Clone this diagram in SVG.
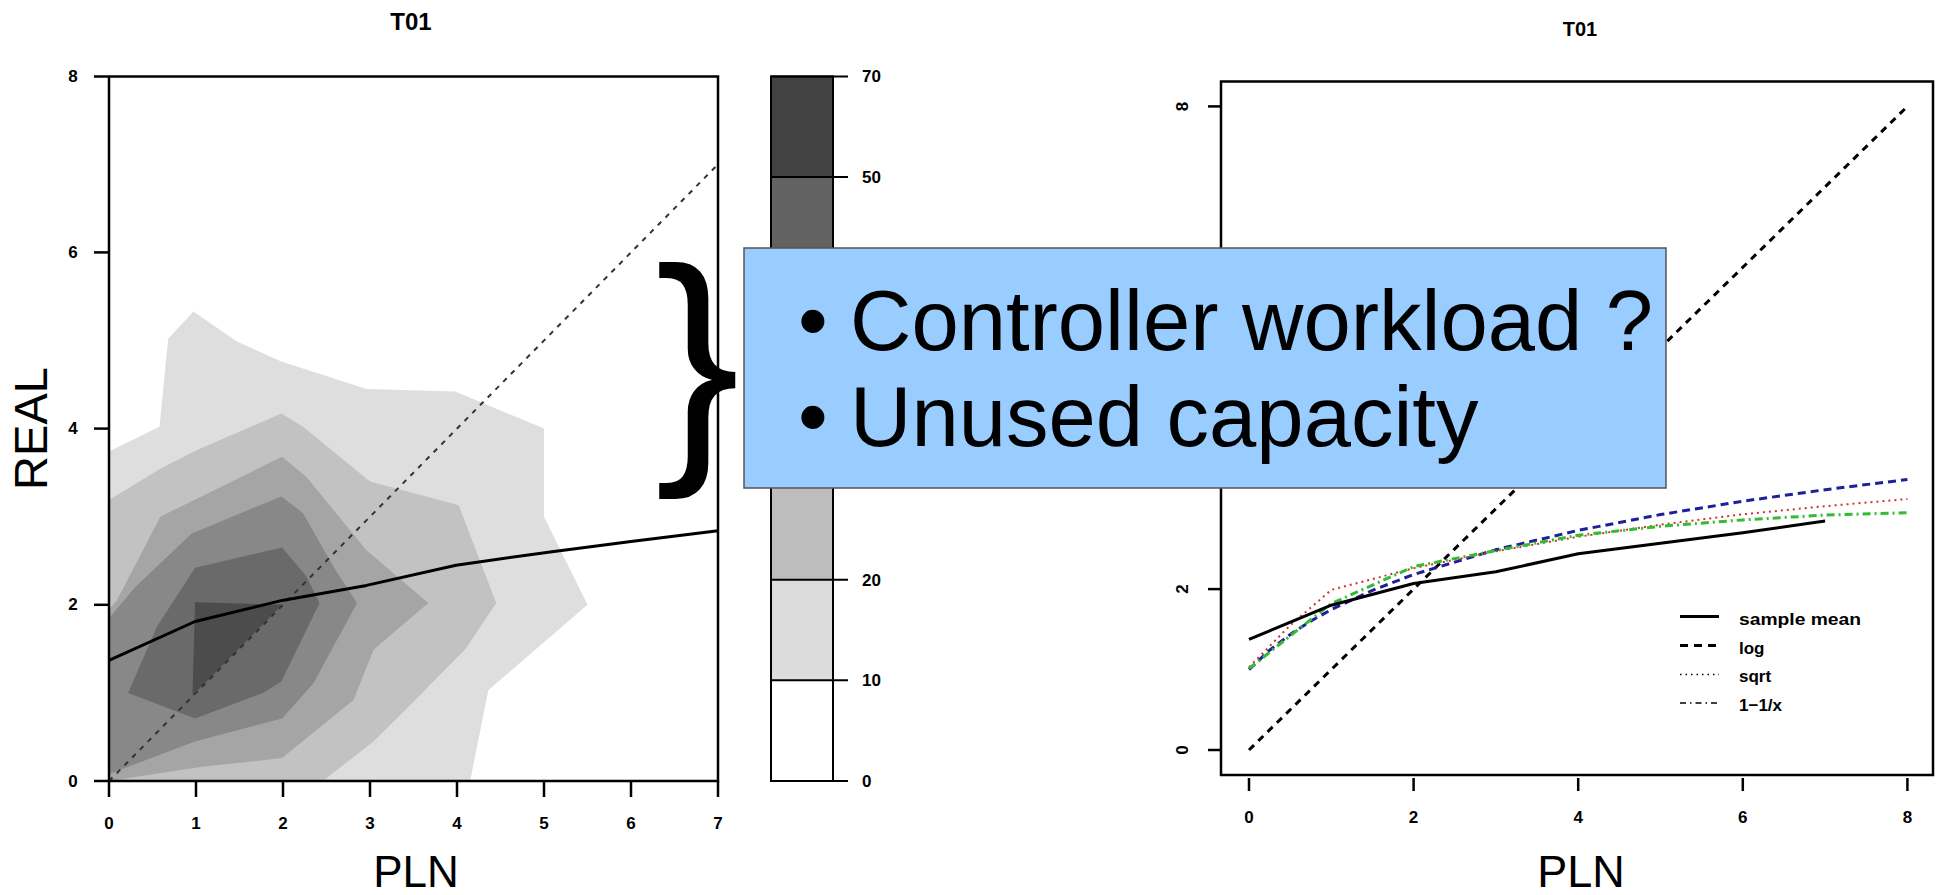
<svg xmlns="http://www.w3.org/2000/svg" width="1937" height="895" viewBox="0 0 1937 895">
<style>
.tick{font-family:"Liberation Sans",Arial,sans-serif;font-weight:bold;font-size:17px;fill:#000}
.title{font-family:"Liberation Sans",Arial,sans-serif;font-weight:bold;fill:#000}
.axlab{font-family:"Liberation Sans",Arial,sans-serif;fill:#000}
.leg{font-family:"Liberation Sans",Arial,sans-serif;font-weight:bold;font-size:17px;fill:#000}
.box{font-family:"Liberation Sans",Arial,sans-serif;font-size:85px;fill:#000}
.ax{stroke:#000;stroke-width:2.5;fill:none}
.tk{stroke:#000;stroke-width:2.5}
</style>
<rect width="1937" height="895" fill="#fff"/>

<g id="left-plot">
  <text class="title" x="411" y="30" font-size="24" text-anchor="middle">T01</text>
  <g id="contours" stroke="none">
    <polygon fill="#dedede" points="109,781 470.1,781 488.3,690.3 587.5,604.8 544,516.7 544,428.6 455.3,391.6 366.5,389 281.3,361.6 236.9,341.4 193.4,311.4 168.2,338.7 159.5,426.8 109,451.5"/>
    <polygon fill="#c2c2c2" points="109,781 323,781 373.5,741.4 417.9,697.3 465.7,648.8 496.2,603 458.7,505.2 370,481.5 303,426.8 281.3,413.6 196,450.6 161.2,468.2 109,500"/>
    <polygon fill="#a5a5a5" points="109,781 200.4,766.9 282.1,758.1 353.5,700 373.5,649.7 428.3,603 366.5,550.2 306.5,477.1 282.1,456.8 160.3,516.7 116.8,600.4 109,609.2"/>
    <polygon fill="#888888" points="109,774 195.1,741.4 282.1,718.4 313.5,683.2 357,603 333.5,566.8 303,513.2 281.3,496.4 191.7,533.4 135.1,587.2 109,618"/>
    <polygon fill="#6a6a6a" points="128.1,692.9 156.9,626.8 195.1,567.8 282.1,547.5 306.5,576.6 319.5,603 281.3,681.4 263,692.9 195.1,718.4"/>
    <polygon fill="#4c4c4c" points="195.1,602.2 282.1,604.8 192.5,695.5"/>
  </g>
  <line x1="109" y1="781" x2="718" y2="164.3" stroke="#333" stroke-width="2" stroke-dasharray="5 6"/>
  <polyline fill="none" stroke="#000" stroke-width="3" stroke-linejoin="round" points="109,660.3 195.1,621.5 282.1,600.4 366.5,585.4 456.1,565.2 550.1,551.9 631,541.4 718,530.8"/>
  <g id="left-axes">
    <polyline class="ax" points="94,76.4 718,76.4 718,781 109,781"/>
    <line class="ax" x1="109" y1="76.4" x2="109" y2="797"/>
    <line class="tk" x1="94" y1="252.4" x2="109" y2="252.4"/>
    <line class="tk" x1="94" y1="428.6" x2="109" y2="428.6"/>
    <line class="tk" x1="94" y1="604.8" x2="109" y2="604.8"/>
    <line class="tk" x1="94" y1="781" x2="109" y2="781"/>
    <line class="tk" x1="196" y1="781" x2="196" y2="797"/>
    <line class="tk" x1="283" y1="781" x2="283" y2="797"/>
    <line class="tk" x1="370" y1="781" x2="370" y2="797"/>
    <line class="tk" x1="457" y1="781" x2="457" y2="797"/>
    <line class="tk" x1="544" y1="781" x2="544" y2="797"/>
    <line class="tk" x1="631" y1="781" x2="631" y2="797"/>
    <line class="tk" x1="718" y1="781" x2="718" y2="797"/>
    <g text-anchor="middle">
      <text class="tick" x="73" y="82">8</text>
      <text class="tick" x="73" y="258">6</text>
      <text class="tick" x="73" y="434">4</text>
      <text class="tick" x="73" y="610">2</text>
      <text class="tick" x="73" y="787">0</text>
      <text class="tick" x="109" y="829">0</text>
      <text class="tick" x="196" y="829">1</text>
      <text class="tick" x="283" y="829">2</text>
      <text class="tick" x="370" y="829">3</text>
      <text class="tick" x="457" y="829">4</text>
      <text class="tick" x="544" y="829">5</text>
      <text class="tick" x="631" y="829">6</text>
      <text class="tick" x="718" y="829">7</text>
    </g>
  </g>
  <text class="axlab" font-size="47" text-anchor="middle" transform="rotate(-90)" x="-428.5" y="47">REAL</text>
  <text class="axlab" font-size="44" text-anchor="middle" x="416" y="887">PLN</text>
</g>

<g id="colorbar">
  <rect x="771" y="680.3" width="62" height="100.7" fill="#ffffff"/>
  <rect x="771" y="579.7" width="62" height="100.6" fill="#dcdcdc"/>
  <rect x="771" y="479" width="62" height="100.7" fill="#bdbdbd"/>
  <rect x="771" y="378.4" width="62" height="100.6" fill="#9e9e9e"/>
  <rect x="771" y="277.7" width="62" height="100.7" fill="#7f7f7f"/>
  <rect x="771" y="177.1" width="62" height="100.6" fill="#626262"/>
  <rect x="771" y="76.4" width="62" height="100.7" fill="#424242"/>
  <rect x="771" y="76.4" width="62" height="704.6" fill="none" stroke="#000" stroke-width="2"/>
  <g stroke="#000" stroke-width="2">
    <line x1="771" y1="781" x2="848" y2="781"/>
    <line x1="771" y1="680.3" x2="848" y2="680.3"/>
    <line x1="771" y1="579.7" x2="848" y2="579.7"/>
    <line x1="771" y1="177.1" x2="848" y2="177.1"/>
    <line x1="771" y1="76.4" x2="848" y2="76.4"/>
  </g>
  <text class="tick" x="862" y="787">0</text>
  <text class="tick" x="862" y="686">10</text>
  <text class="tick" x="862" y="586">20</text>
  <text class="tick" x="862" y="183">50</text>
  <text class="tick" x="862" y="82">70</text>
</g>

<g id="right-plot">
  <text class="title" x="1580" y="36" font-size="20" text-anchor="middle">T01</text>
  <line x1="1249" y1="750" x2="1907.4" y2="106.4" stroke="#000" stroke-width="3" stroke-dasharray="7 6"/>
  <polyline fill="none" stroke="#1f1f99" stroke-width="3" stroke-dasharray="8 5" points="1249,669.6 1269.6,650.2 1290.2,634.5 1310.7,621.1 1331.3,609.6 1372.5,590.3 1413.6,574.5 1495.9,549.7 1578.2,530.4 1660.5,514.6 1742.8,501.2 1825.1,489.7 1907.4,479.5"/>
  <polyline fill="none" stroke="#cc3333" stroke-width="2" stroke-dasharray="2 4" points="1249,667.1 1290.2,625.3 1331.3,589.9 1413.6,568.2 1495.9,551.3 1578.2,536.8 1660.5,524.7 1742.8,514.3 1825.1,506.2 1907.4,499"/>
  <polyline fill="none" stroke="#33bb33" stroke-width="3" stroke-dasharray="8 4 2 4" points="1249,668.7 1290.2,635.8 1331.3,603.6 1413.6,566.6 1495.9,550.5 1578.2,535.2 1660.5,526.3 1742.8,519.9 1825.1,515.1 1907.4,512.7"/>
  <polyline fill="none" stroke="#000" stroke-width="3" stroke-linejoin="round" points="1249,639.4 1331.3,605.2 1413.6,583.5 1495.9,571.8 1578.2,553.7 1660.5,543.2 1742.8,532.8 1825.1,521.1"/>
  <g id="legend">
    <line x1="1680" y1="616.5" x2="1719" y2="616.5" stroke="#000" stroke-width="3"/>
    <line x1="1680" y1="645.5" x2="1719" y2="645.5" stroke="#000" stroke-width="3" stroke-dasharray="8 6"/>
    <line x1="1680" y1="674.5" x2="1719" y2="674.5" stroke="#000" stroke-width="1.5" stroke-dasharray="1.5 4"/>
    <line x1="1680" y1="703" x2="1719" y2="703" stroke="#000" stroke-width="1.5" stroke-dasharray="6 4 1.5 4"/>
    <text class="leg" x="1739" y="624.5" textLength="122" lengthAdjust="spacingAndGlyphs">sample mean</text>
    <text class="leg" x="1739" y="653.5">log</text>
    <text class="leg" x="1739" y="682">sqrt</text>
    <text class="leg" x="1739" y="710.5">1−1/x</text>
  </g>
  <g id="right-axes">
    <rect class="ax" x="1221" y="81.5" width="712" height="693.5" stroke-width="3"/>
    <line class="tk" x1="1208" y1="106.4" x2="1221" y2="106.4"/>
    <line class="tk" x1="1208" y1="589.1" x2="1221" y2="589.1"/>
    <line class="tk" x1="1208" y1="750" x2="1221" y2="750"/>
    <line class="tk" x1="1249" y1="778" x2="1249" y2="791"/>
    <line class="tk" x1="1413.6" y1="778" x2="1413.6" y2="791"/>
    <line class="tk" x1="1578.2" y1="778" x2="1578.2" y2="791"/>
    <line class="tk" x1="1742.8" y1="778" x2="1742.8" y2="791"/>
    <line class="tk" x1="1907.4" y1="778" x2="1907.4" y2="791"/>
    <g text-anchor="middle">
      <text class="tick" transform="translate(1188,106.4) rotate(-90)">8</text>
      <text class="tick" transform="translate(1188,589.1) rotate(-90)">2</text>
      <text class="tick" transform="translate(1188,750) rotate(-90)">0</text>
      <text class="tick" x="1249" y="823">0</text>
      <text class="tick" x="1413.6" y="823">2</text>
      <text class="tick" x="1578.2" y="823">4</text>
      <text class="tick" x="1742.8" y="823">6</text>
      <text class="tick" x="1907.4" y="823">8</text>
    </g>
  </g>
  <text class="axlab" font-size="45" text-anchor="middle" x="1581" y="887">PLN</text>
</g>

<g id="brace">
  <text class="axlab" font-size="254" x="655" y="446">}</text>
</g>

<g id="callout">
  <rect x="744" y="248" width="922" height="240" fill="#99ccff" stroke="#555" stroke-width="1.5"/>
  <text class="box" x="813" y="350" text-anchor="middle">•</text>
  <text class="box" x="850" y="350">Controller workload ?</text>
  <text class="box" x="813" y="446" text-anchor="middle">•</text>
  <text class="box" x="850" y="446">Unused capacity</text>
</g>
</svg>
